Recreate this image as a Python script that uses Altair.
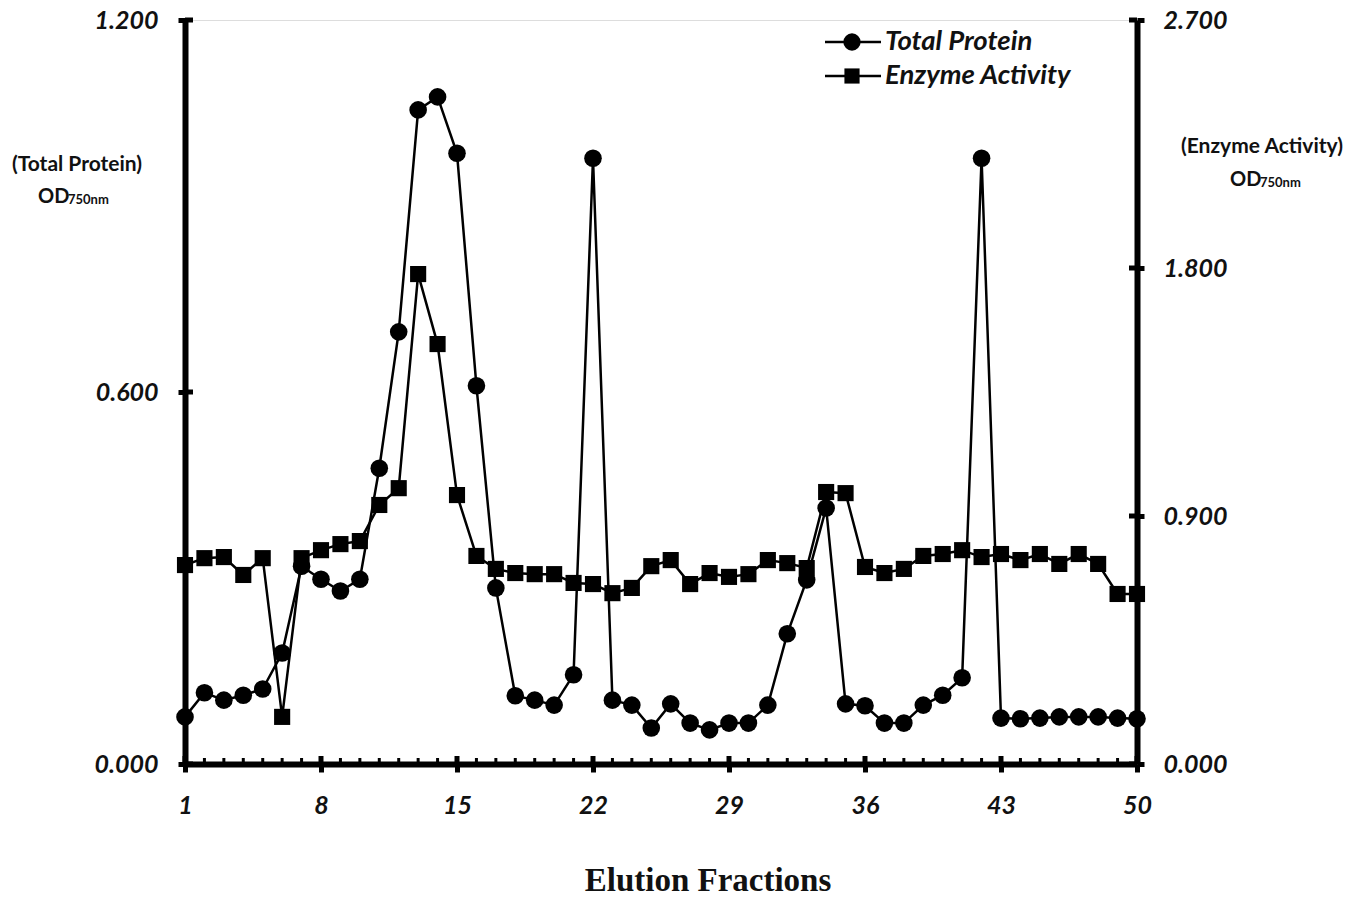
import altair as alt
import pandas as pd

fractions = list(range(1, 51))
total_protein = [0.076, 0.115, 0.103, 0.111, 0.121, 0.179, 0.319, 0.298, 0.279, 0.298,
                 0.477, 0.697, 1.055, 1.076, 0.985, 0.610, 0.284, 0.110, 0.103, 0.095,
                 0.144, 0.977, 0.103, 0.095, 0.058, 0.097, 0.066, 0.055, 0.066, 0.066,
                 0.095, 0.210, 0.297, 0.413, 0.097, 0.094, 0.066, 0.066, 0.095, 0.111,
                 0.139, 0.977, 0.074, 0.073, 0.074, 0.076, 0.076, 0.076, 0.074, 0.073]
enzyme_activity = [0.722, 0.747, 0.751, 0.686, 0.747, 0.171, 0.747, 0.776, 0.798, 0.809,
                   0.940, 1.001, 1.778, 1.524, 0.976, 0.755, 0.708, 0.693, 0.689, 0.689,
                   0.657, 0.653, 0.620, 0.639, 0.718, 0.740, 0.653, 0.693, 0.679, 0.689,
                   0.740, 0.729, 0.711, 0.987, 0.983, 0.715, 0.693, 0.708, 0.755, 0.762,
                   0.776, 0.751, 0.762, 0.740, 0.762, 0.726, 0.762, 0.726, 0.617, 0.617]
x_ticks = [1, 8, 15, 22, 29, 36, 43, 50]
left_ticks = [0.0, 0.6, 1.2]
right_ticks = [0.0, 0.9, 1.8, 2.7]

W, H = 952, 744
LABEL_FONT = "Lato"
INK = "#111111"

df = pd.DataFrame({"Fraction": fractions, "Total Protein": total_protein,
                   "Enzyme Activity": enzyme_activity})

xscale = alt.Scale(domain=[1, 50], nice=False, zero=False)
lscale = alt.Scale(domain=[0, 1.2], nice=False, zero=False)
rscale = alt.Scale(domain=[0, 2.7], nice=False, zero=False)

x_axis = alt.Axis(values=x_ticks, title=None, domainColor="black", domainWidth=6,
                  tickColor="black", tickWidth=5, tickSize=8, labelPadding=21,
                  labelFont=LABEL_FONT, labelFontSize=25, labelFontWeight="bold",
                  labelFontStyle="italic", labelColor=INK, grid=False, labelFlush=False)
X = alt.X("Fraction:Q", scale=xscale, axis=x_axis)

left_axis = alt.Axis(values=left_ticks, format=".3f", title=None, orient="left",
                     domainColor="black", domainWidth=6, tickColor="black", tickWidth=5,
                     tickSize=7, labelPadding=20, labelFont=LABEL_FONT, labelFontSize=25,
                     labelFontWeight="bold", labelFontStyle="italic", labelColor=INK,
                     grid=False)
right_axis = alt.Axis(values=right_ticks, format=".3f", title=None, orient="right",
                      domainColor="black", domainWidth=6, tickColor="black", tickWidth=5,
                      tickSize=7, labelPadding=19, labelFont=LABEL_FONT, labelFontSize=25,
                      labelFontWeight="bold", labelFontStyle="italic", labelColor=INK,
                      grid=False)

base = alt.Chart(df)

protein_line = base.mark_line(color="black", strokeWidth=2.5).encode(
    x=X, y=alt.Y("Total Protein:Q", scale=lscale, axis=left_axis))
protein_pts = base.mark_point(shape="circle", filled=True, size=310, color="black",
                              opacity=1).encode(
    x=X, y=alt.Y("Total Protein:Q", scale=lscale, axis=None))
enzyme_line = base.mark_line(color="black", strokeWidth=2.5).encode(
    x=X, y=alt.Y("Enzyme Activity:Q", scale=rscale, axis=right_axis))
enzyme_pts = base.mark_point(shape="square", filled=True, size=260, color="black",
                             opacity=1).encode(
    x=X, y=alt.Y("Enzyme Activity:Q", scale=rscale, axis=None))

# inward halves of axis ticks
minor = alt.Chart(pd.DataFrame({"Fraction": fractions})).mark_rule(
    color="black", strokeWidth=3).encode(x=X, y=alt.value(H), y2=alt.value(H - 6))
major = alt.Chart(pd.DataFrame({"Fraction": x_ticks})).mark_rule(
    color="black", strokeWidth=5).encode(x=X, y=alt.value(H), y2=alt.value(H - 8))
lt = alt.Chart(pd.DataFrame({"v": left_ticks})).mark_rule(
    color="black", strokeWidth=5).encode(
    y=alt.Y("v:Q", scale=lscale, axis=None), x=alt.value(0), x2=alt.value(8))
rt = alt.Chart(pd.DataFrame({"v": right_ticks})).mark_rule(
    color="black", strokeWidth=5).encode(
    y=alt.Y("v:Q", scale=rscale, axis=None), x=alt.value(W), x2=alt.value(W - 8))


def label(txt, x, y, size, font="Lato", weight="bold", style="normal", align="center"):
    return alt.Chart(pd.DataFrame({"t": [txt]})).mark_text(
        font=font, fontSize=size, fontWeight=weight, fontStyle=style, align=align,
        baseline="middle", color=INK).encode(
        text="t:N", x=alt.value(x), y=alt.value(y))


annotations = [
    label("(Total Protein)", -108, 145, 21),
    label("OD", -147, 177, 20, align="left"),
    label("750nm", -117, 180, 13, align="left"),
    label("(Enzyme Activity)", 1077, 127, 21),
    label("OD", 1045, 160, 20, align="left"),
    label("750nm", 1075, 163, 13, align="left"),
    label("Elution Fractions", 523, 861, 33, font="Liberation Serif"),
]

# legend
leg_rows = [("Total Protein", 22, "circle", 300), ("Enzyme Activity", 56, "square", 230)]
legend = []
for name, ly, shp, sz in leg_rows:
    legend.append(alt.Chart(pd.DataFrame({"t": [name]})).mark_rule(
        color="black", strokeWidth=2.5).encode(
        x=alt.value(640), x2=alt.value(696), y=alt.value(ly)))
    legend.append(alt.Chart(pd.DataFrame({"t": [name]})).mark_point(
        shape=shp, filled=True, size=sz, color="black", opacity=1).encode(
        x=alt.value(667), y=alt.value(ly)))
    legend.append(label(name, 700, ly, 27.5, style="italic", align="left"))

chart = alt.layer(
    protein_line, protein_pts, enzyme_line, enzyme_pts, minor, major, lt, rt,
    *annotations, *legend
).resolve_scale(y="independent").properties(
    width=W, height=H,
    padding={"left": 185, "top": 20, "right": 227, "bottom": 134},
    autosize=alt.AutoSizeParams(type="none"),
).configure_view(stroke=None).configure(background="white")

chart.save("out.html", embed_options={"renderer": "svg", "actions": False})
